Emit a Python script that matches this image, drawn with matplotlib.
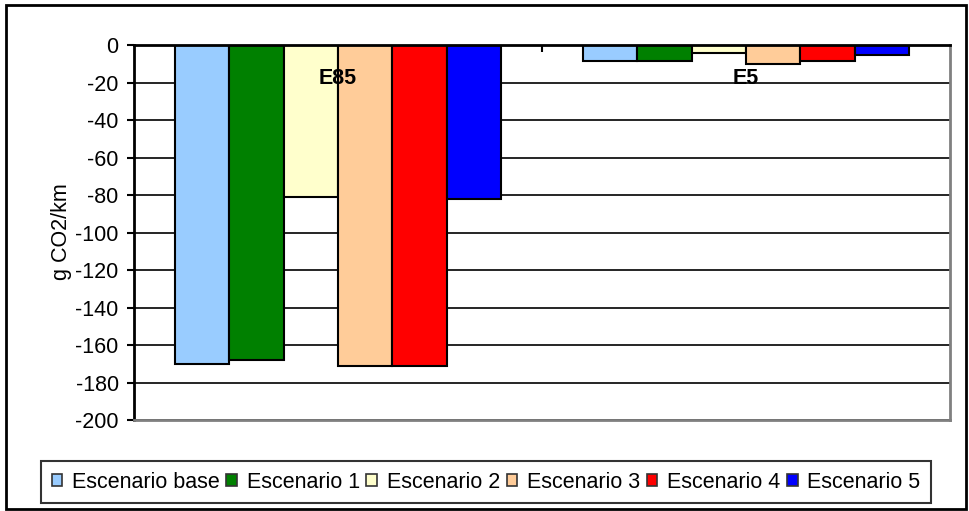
import numpy as np
import matplotlib.pyplot as plt
from matplotlib.patches import Rectangle

plt.rcParams['font.family'] = ['Liberation Sans', 'DejaVu Sans']

categories = ['E85', 'E5']
scenarios = ['Escenario base', 'Escenario 1', 'Escenario 2',
             'Escenario 3', 'Escenario 4', 'Escenario 5']
values = {
    'Escenario base': [-170, -8.5],
    'Escenario 1': [-168, -8.5],
    'Escenario 2': [-81, -4],
    'Escenario 3': [-171, -10],
    'Escenario 4': [-171, -8.5],
    'Escenario 5': [-82, -5.5],
}
colors = ['#99CCFF', '#008000', '#FFFFCC', '#FFCC99', '#FF0000', '#0000FF']
yticks = list(range(0, -201, -20))

fig = plt.figure(figsize=(9.69, 5.11), dpi=100)
ax = fig.add_axes([134 / 969, 1 - 420 / 511, (950 - 134) / 969, 375 / 511])

x = np.arange(len(categories))
width = 0.8 / len(scenarios)
for i, (name, c) in enumerate(zip(scenarios, colors)):
    ax.bar(x - 0.4 + width * (i + 0.5), values[name], width, color=c,
           edgecolor='black', linewidth=1.5, label=name, zorder=3)

ax.set_xlim(-0.5, 1.5)
ax.set_ylim(-200, 0)
ax.set_yticks(yticks)
ax.set_yticklabels([str(v) for v in yticks], fontsize=15.5)
ax.yaxis.grid(True, color='black', linewidth=1.2, zorder=0)
ax.tick_params(axis='y', direction='out', length=5, width=1.5, pad=6)

# category axis sits on the zero line at the top
ax.set_xticks([0.5])
ax.set_xticklabels([])
ax.xaxis.set_ticks_position('top')
ax.tick_params(axis='x', direction='in', length=5, width=1.5)
for xi, cat in zip(x, categories):
    ax.text(xi, -18, cat, ha='center', va='center', fontsize=15.5,
            fontweight='bold', zorder=5)

ax.spines['left'].set_linewidth(2)
ax.spines['left'].set_color('black')
ax.spines['top'].set_linewidth(2)
ax.spines['top'].set_color('black')
ax.spines['top'].set_zorder(4)
ax.spines['right'].set_color('#808080')
ax.spines['right'].set_linewidth(2)
ax.spines['bottom'].set_color('#808080')
ax.spines['bottom'].set_linewidth(2)

fig.text(62 / 969, 1 - 232 / 511, 'g CO2/km', rotation=90, ha='center',
         va='center', fontsize=15.5)

leg = fig.legend(loc='center', bbox_to_anchor=(486 / 969, 1 - 482 / 511),
                 ncol=6, fontsize=15.5, frameon=True, fancybox=False,
                 handlelength=0.5, handleheight=0.5, handletextpad=0.45,
                 columnspacing=0.3, borderpad=0.5, borderaxespad=0)
leg.get_frame().set_edgecolor('black')
leg.get_frame().set_linewidth(1.5)
for h in leg.legend_handles:
    h.set_edgecolor('#333333')
    h.set_linewidth(1.2)

fig.patches.append(Rectangle((6 / 969, 1 - 509 / 511), 960 / 969, 504 / 511,
                             transform=fig.transFigure, fill=False,
                             edgecolor='black', linewidth=2))

fig.savefig('out.png', dpi=100)
